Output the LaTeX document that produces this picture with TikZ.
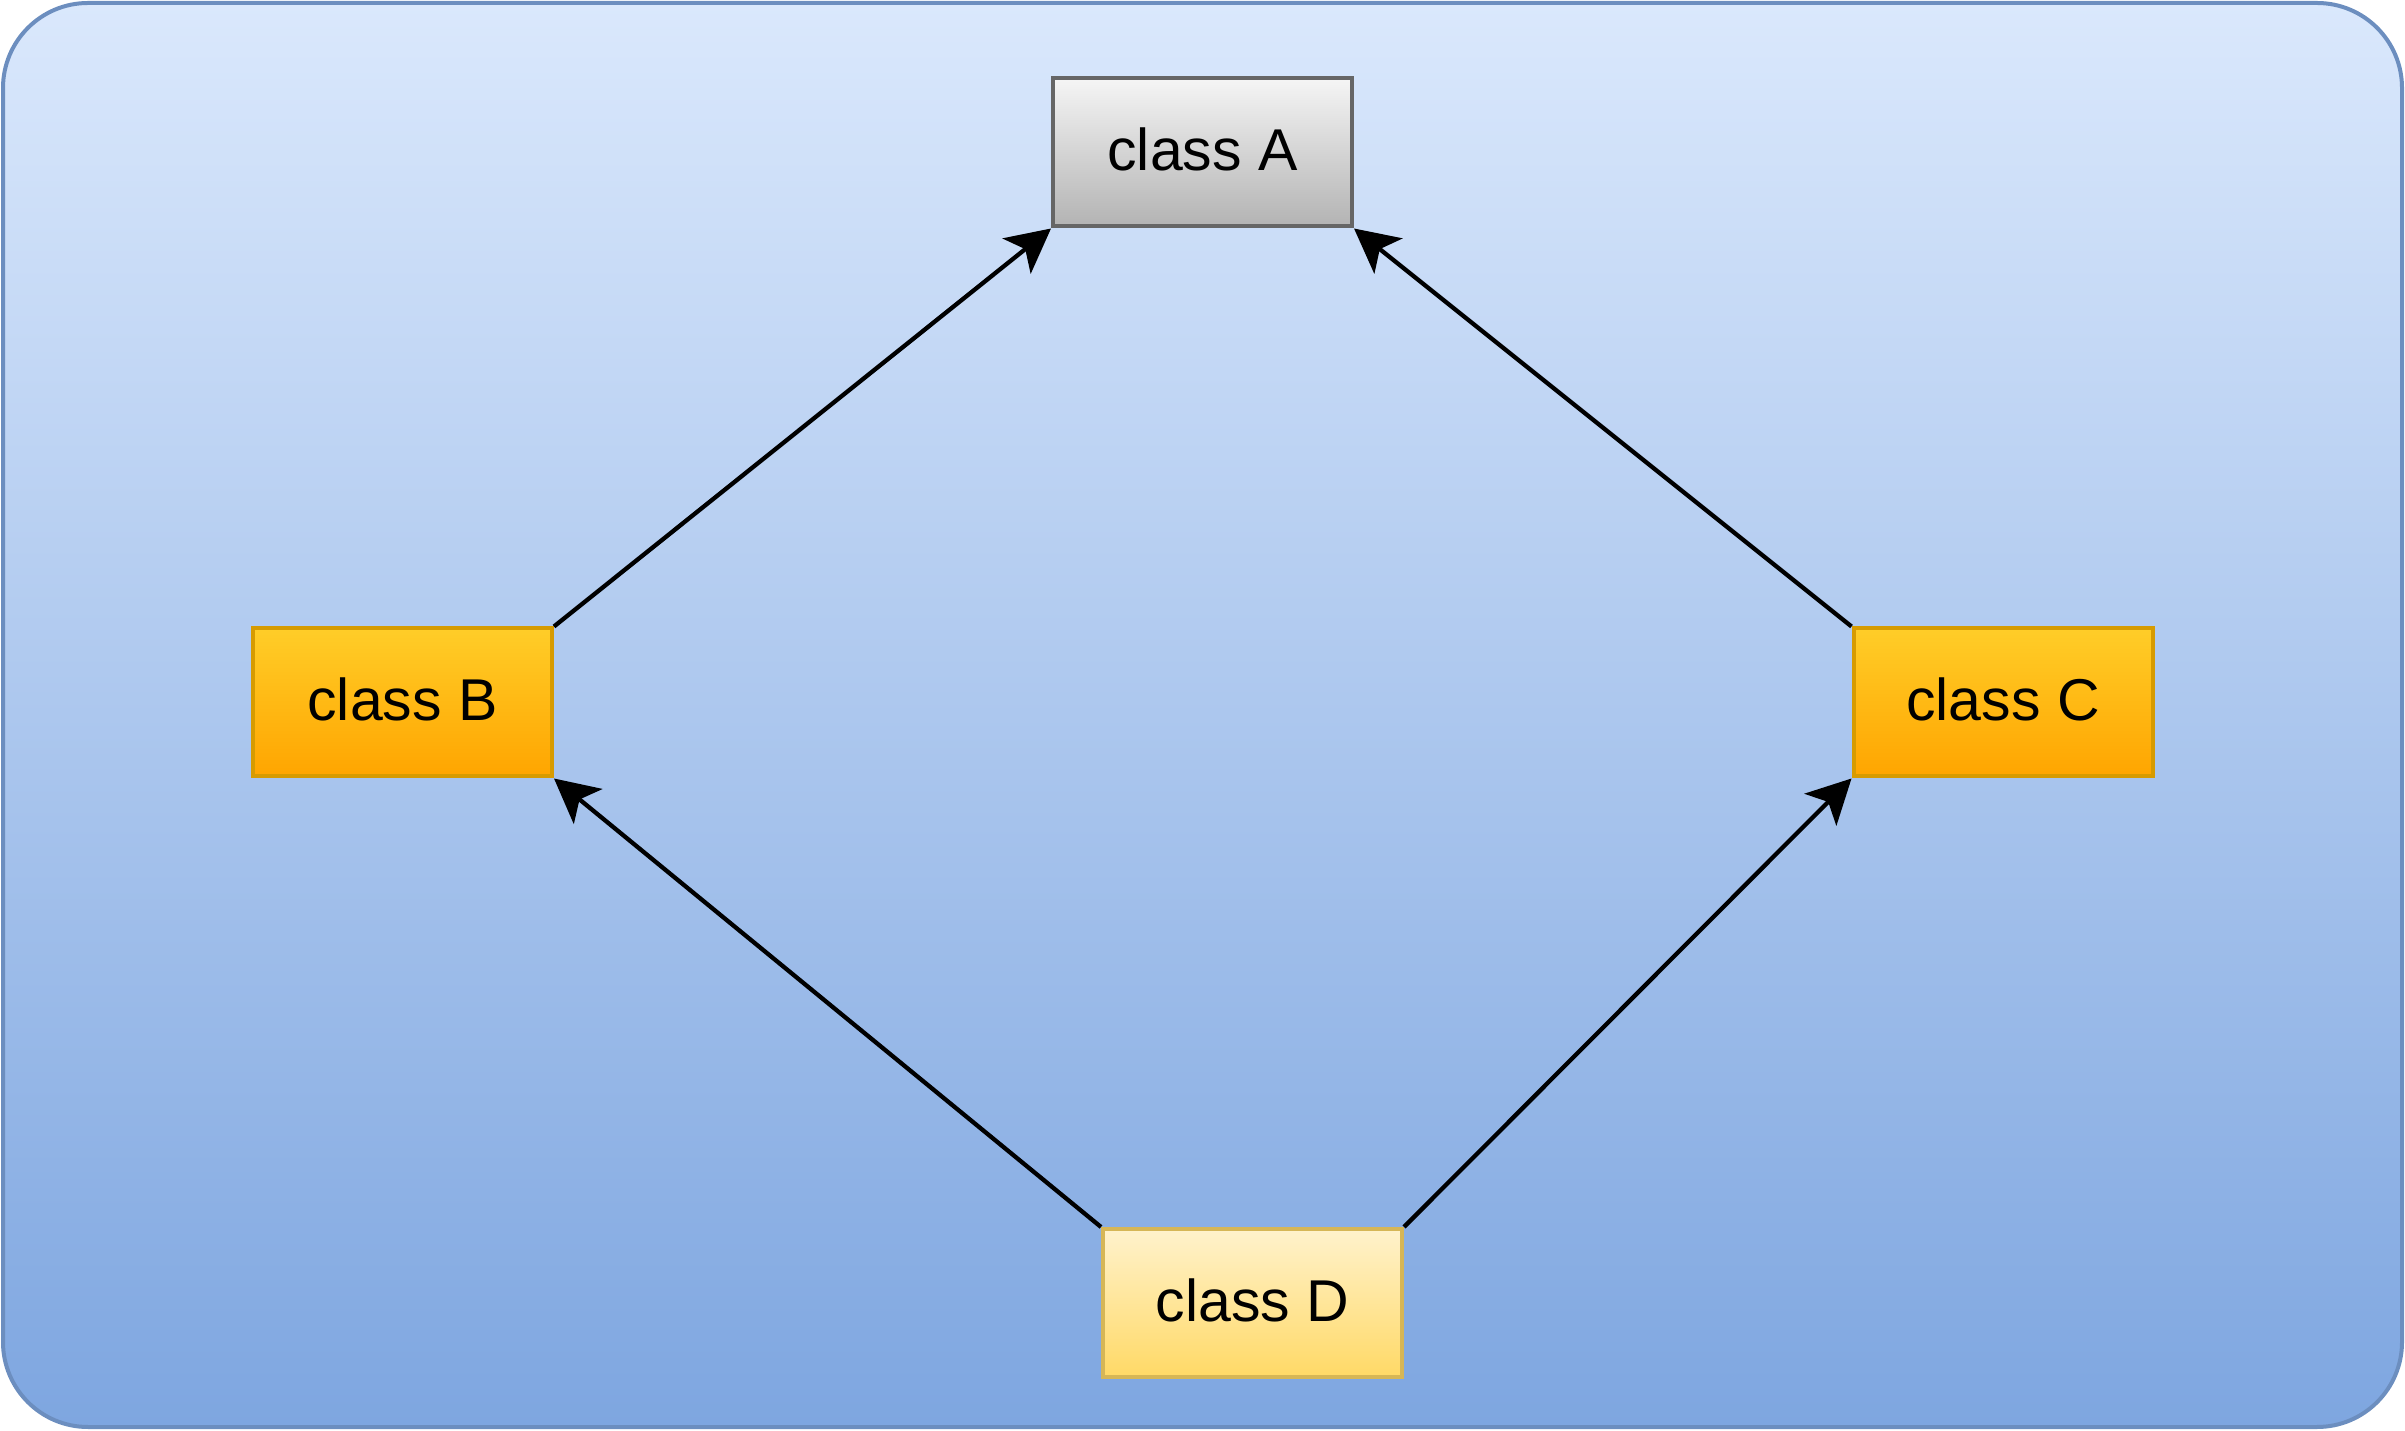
\documentclass[tikz,border=0pt]{standalone}
\usepackage{fontspec}
\setmainfont{Liberation Sans}
\usepackage{xcolor}
\usetikzlibrary{positioning, arrows.meta, shapes.geometric}

\definecolor{bgtop}{HTML}{DAE8FC}
\definecolor{bgbottom}{HTML}{7EA6E0}
\definecolor{bgline}{HTML}{6C8EBF}
\definecolor{graytop}{HTML}{F5F5F5}
\definecolor{graybottom}{HTML}{B3B3B3}
\definecolor{grayline}{HTML}{666666}
\definecolor{orangetop}{HTML}{FFCD28}
\definecolor{orangebottom}{HTML}{FFA500}
\definecolor{orangeline}{HTML}{D79B00}
\definecolor{yellowtop}{HTML}{FFF2CC}
\definecolor{yellowbottom}{HTML}{FFD966}
\definecolor{yellowline}{HTML}{D6B656}

\tikzset{
    class/.style={rectangle, line width=4pt, minimum width=299pt, minimum height=148pt,
        inner sep=0pt, text depth=6pt, font=\fontsize{59}{70}\selectfont}, % every class box
    base/.style={class, top color=graytop, bottom color=graybottom, draw=grayline},
    derived/.style={class, top color=orangetop, bottom color=orangebottom, draw=orangeline},
    joined/.style={class, top color=yellowtop, bottom color=yellowbottom, draw=yellowline},
}
\tikzset{arrow/.style={line width=4.3pt, -{Stealth[length=44pt, width=45pt, inset=11pt]}}}

\begin{document}
\begin{tikzpicture}[x=1pt, y=1pt, on grid]
                \useasboundingbox (0,0) rectangle (2405,1430);
                % Sfondo
                \draw[line width=4pt, draw=bgline, top color=bgtop, bottom color=bgbottom,
                    rounded corners=85pt] (3,3) rectangle (2402,1427);

                % Classi
                \node[base] (A) at (1202.5,1277.5) {class A};
                \node[derived] (B) [below left=550pt and 800pt of A] {class B};
                \node[derived] (C) [below right=550pt and 800.5pt of A] {class C};
                \node[joined] (D) [below right=1150.5pt and 50pt of A] {class D};

                % Ereditarieta
                \path[arrow]
                (B.north east) edge (A.south west)
                (C.north west) edge (A.south east)
                (D.north west) edge (B.south east)
                (D.north east) edge (C.south west);

            \end{tikzpicture}
\end{document}
